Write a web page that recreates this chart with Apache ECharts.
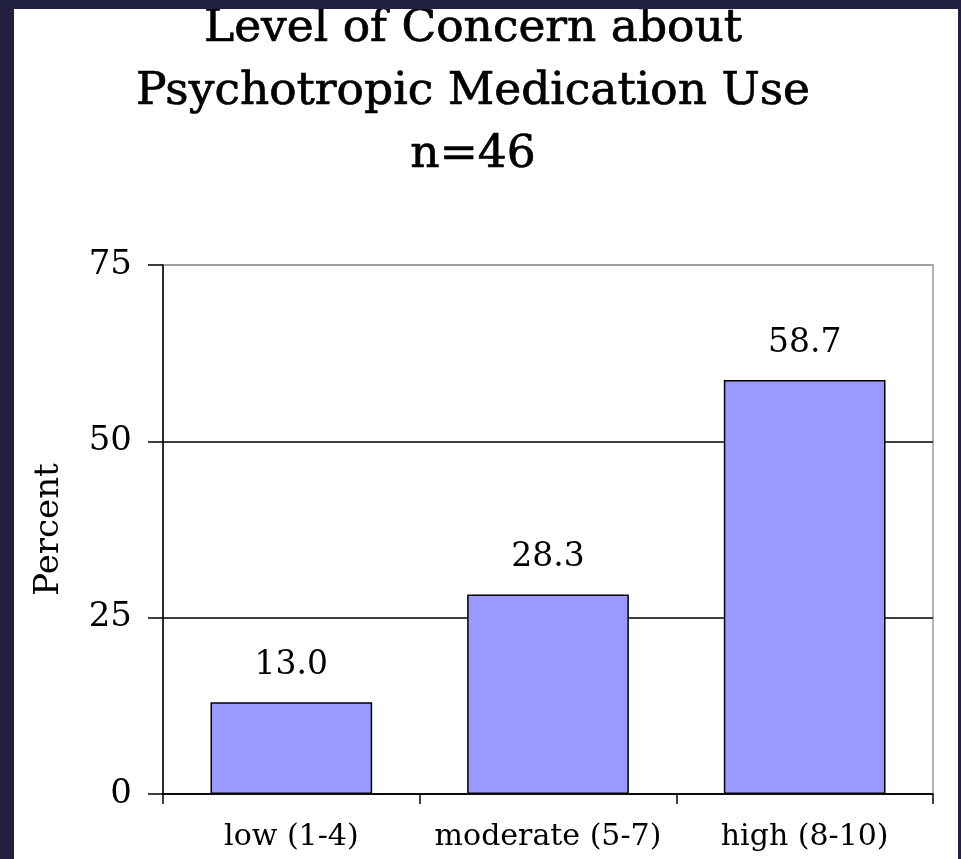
<!DOCTYPE html>
<html>
<head>
<meta charset="utf-8">
<script src="https://cdn.jsdelivr.net/npm/echarts@6/dist/echarts.min.js"></script>
<style>
  html, body { margin: 0; padding: 0; background: #21213f; width: 961px; height: 859px; overflow: hidden; }
  #chart { position: absolute; left: 14px; top: 9px; width: 944px; height: 850px; background: #ffffff; }
</style>
</head>
<body>
<div id="chart"></div>
<script>
// Concern levels and the share of respondents in each
const categories = ['low (1-4)', 'moderate (5-7)', 'high (8-10)'];
const percents = [13.0, 28.3, 58.7];
const yTicks = [0, 25, 50, 75];

const FONT = 'DejaVu Serif';
const chart = echarts.init(document.getElementById('chart'), null, { renderer: 'canvas' });

chart.setOption({
  backgroundColor: '#ffffff',
  animation: false,
  title: {
    text: 'Level of Concern about\nPsychotropic Medication Use\nn=46',
    left: 454,
    textAlign: 'center',
    top: -16,
    textStyle: {
      fontFamily: FONT,
      fontSize: 45.5,
      fontWeight: 'normal',
      color: '#000',
      lineHeight: 63,
      textBorderColor: '#000',
      textBorderWidth: 0.7
    }
  },
  grid: {
    left: 149,
    right: 25,
    top: 256,
    bottom: 65,
    show: true,
    borderColor: '#9a9a9a',
    borderWidth: 1.5,
    backgroundColor: 'transparent'
  },
  xAxis: {
    type: 'category',
    data: categories,
    boundaryGap: true,
    axisLine: { lineStyle: { color: '#000', width: 1.5 } },
    axisTick: { show: true, interval: 0, alignWithLabel: false, length: 10, lineStyle: { color: '#000', width: 1.5 } },
    axisLabel: { interval: 0, hideOverlap: false, fontFamily: FONT, fontSize: 30, color: '#000', margin: 28 }
  },
  yAxis: {
    type: 'value',
    min: yTicks[0],
    max: yTicks[yTicks.length - 1],
    interval: 25,
    name: 'Percent',
    nameLocation: 'middle',
    nameRotate: 90,
    nameGap: 97,
    nameTextStyle: { fontFamily: FONT, fontSize: 34, color: '#000' },
    axisLine: { show: true, lineStyle: { color: '#000', width: 1.5 } },
    axisTick: { show: true, inside: false, length: 15, lineStyle: { color: '#000', width: 1.5 } },
    axisLabel: { fontFamily: FONT, fontSize: 34, color: '#000', margin: 31 },
    splitLine: { show: true, lineStyle: { color: ['#000', '#000', '#000', '#9a9a9a'], width: 1.5 } }
  },
  series: [{
    type: 'bar',
    data: percents,
    barWidth: '63%',
    itemStyle: { color: '#9999ff', borderColor: '#000', borderWidth: 1.5 },
    label: {
      show: true,
      position: 'top',
      distance: 20,
      fontFamily: FONT,
      fontSize: 33,
      color: '#000',
      formatter: p => p.value.toFixed(1)
    }
  }]
});
</script>
</body>
</html>
